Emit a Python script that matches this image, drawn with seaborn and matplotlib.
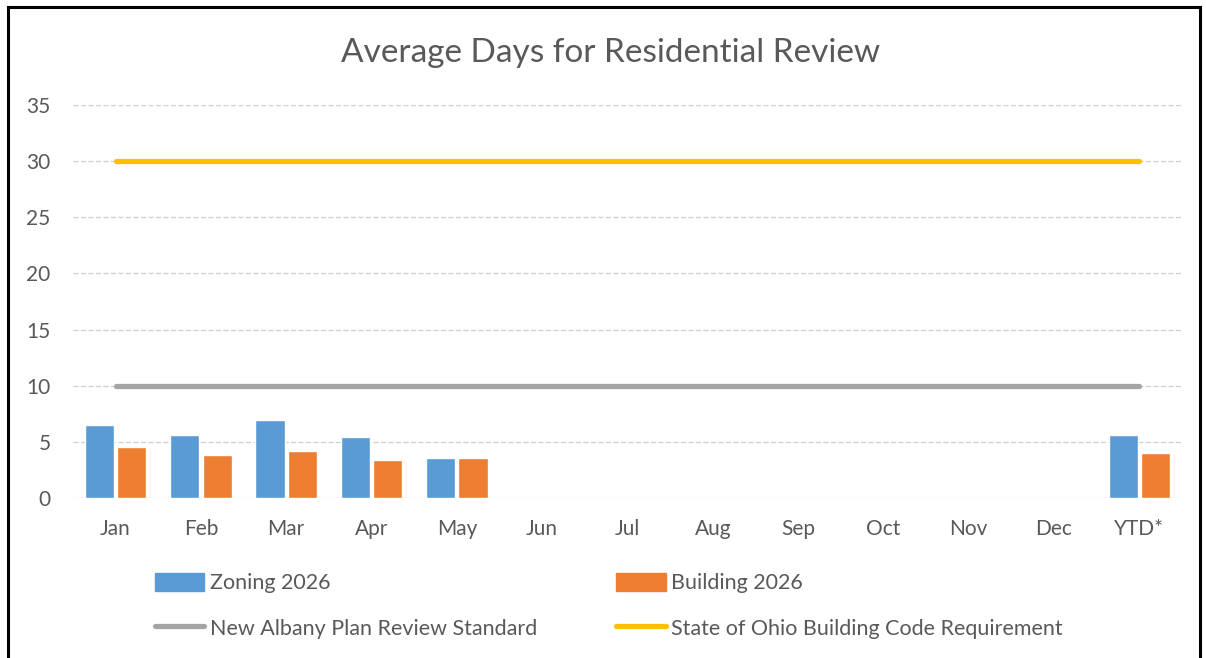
import matplotlib.pyplot as plt
import seaborn as sns
import pandas as pd
from matplotlib.patches import Rectangle, Patch
from matplotlib.lines import Line2D

months = ["Jan", "Feb", "Mar", "Apr", "May", "Jun", "Jul", "Aug", "Sep", "Oct", "Nov", "Dec", "YTD*"]
zoning = [6.5, 5.6, 6.9, 5.4, 3.6, None, None, None, None, None, None, None, 5.6]
building = [4.5, 3.8, 4.15, 3.4, 3.6, None, None, None, None, None, None, None, 4.0]
new_albany = [10] * 13
ohio = [30] * 13

#long table for the grouped bars
df = pd.DataFrame({
    "month": months * 2,
    "days": zoning + building,
    "series": ["Zoning 2026"] * 13 + ["Building 2026"] * 13,
})

sns.set_theme(style="white")
plt.rcParams["font.family"] = ["Lato", "DejaVu Sans"]
txt = "#595959"

fig = plt.figure(figsize=(12.06, 6.58), dpi=100)
ax = fig.add_axes([0.0605, 0.2432, 0.9196, 0.5973])

sns.barplot(
    data=df,
    x="month",
    y="days",
    hue="series",
    order=months,
    palette=["#5B9BD5", "#ED7D31"],
    width=0.76,
    gap=0.1,
    saturation=1,
    legend=False,
    ax=ax,
)

sns.lineplot(x=months, y=new_albany, color="#A5A5A5", linewidth=3.8, ax=ax, zorder=3)
sns.lineplot(x=months, y=ohio, color="#FFC000", linewidth=3.8, ax=ax, zorder=3)

ax.set_xlim(-0.5, 12.5)
ax.set_ylim(0, 35)
ax.set_yticks(range(0, 36, 5))
ax.yaxis.grid(True, color="#CFCFCF", linestyle=(0, (4, 2)), linewidth=0.9)
ax.set_axisbelow(True)
for s in ax.spines.values():
    s.set_visible(False)
ax.set_xlabel("")
ax.set_ylabel("")
ax.tick_params(axis="both", colors=txt, labelsize=15, length=0)
ax.tick_params(axis="x", pad=15)
ax.tick_params(axis="y", pad=16)

fig.text(0.506, 0.92, "Average Days for Residential Review", ha="center", va="center",
         fontsize=24, color=txt)

#two one-column legends so the columns sit where the original has them
leg_kw = dict(loc="upper left", frameon=False, fontsize=15.5, labelcolor=txt,
              handlelength=2.3, handleheight=0.9, handletextpad=0.25, labelspacing=1.15,
              borderpad=0, borderaxespad=0)
leg1 = fig.legend([Patch(color="#5B9BD5"), Line2D([], [], color="#A5A5A5", linewidth=3.8)],
                  ["Zoning 2026", "New Albany Plan Review Standard"],
                  bbox_to_anchor=(0.1285, 0.129), **leg_kw)
leg2 = fig.legend([Patch(color="#ED7D31"), Line2D([], [], color="#FFC000", linewidth=3.8)],
                  ["Building 2026", "State of Ohio Building Code Requirement"],
                  bbox_to_anchor=(0.5108, 0.129), **leg_kw)

#outer border like the pasted chart
fig.patches.append(Rectangle((8 / 1206, -0.02), 1192 / 1206, 1 - 7 / 658 + 0.02,
                             transform=fig.transFigure, fill=False, edgecolor="black", linewidth=2.2))

plt.savefig("out.png", dpi=100)
plt.close()
